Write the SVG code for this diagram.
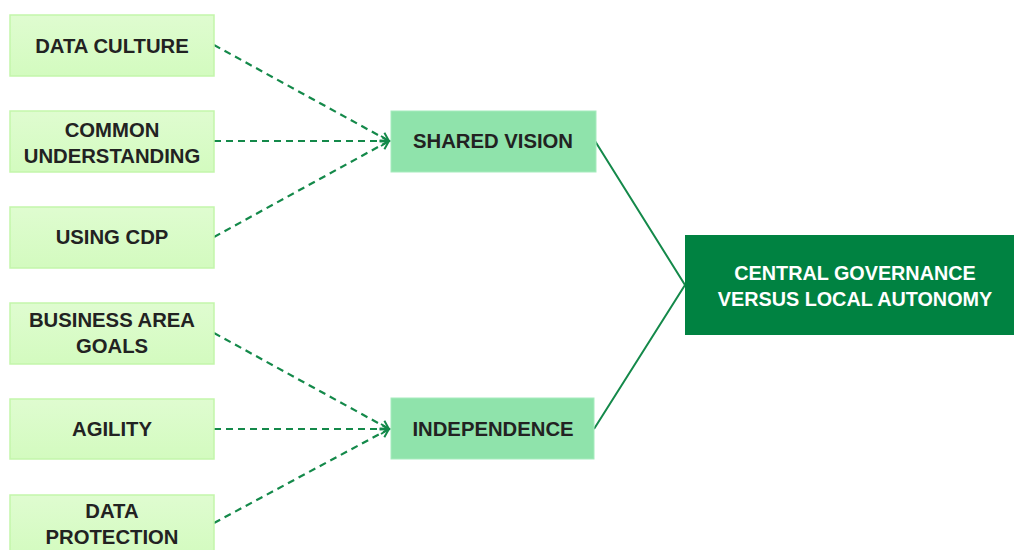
<svg xmlns="http://www.w3.org/2000/svg" width="1014" height="550" viewBox="0 0 1014 550">
  <style>
    .leaf rect { fill: url(#leafFill); stroke: #c3f6ab; stroke-width: 1.5; }
    .mid rect { fill: #8fe3ab; stroke: #a6ebbd; stroke-width: 1; }
    .root rect { fill: #008241; }
    text { font-family: "Liberation Sans", Arial, sans-serif; font-weight: bold; font-size: 20.3px; text-anchor: middle; fill: #222222; }
    .root text { fill: #ffffff; font-size: 19.8px; }
    .dash { fill: none; stroke: #14894a; stroke-width: 2.2; stroke-dasharray: 7 5; marker-end: url(#chev); }
    .solid { fill: none; stroke: #14894a; stroke-width: 2; }
  </style>
  <defs>
    <linearGradient id="leafFill" x1="0" y1="0" x2="0" y2="1">
      <stop offset="0" stop-color="#dffcd0"/>
      <stop offset="1" stop-color="#d3fbbf"/>
    </linearGradient>
    <marker id="chev" markerUnits="userSpaceOnUse" markerWidth="12" markerHeight="12" refX="9" refY="6" orient="auto">
      <path d="M1,1 L9,6 L1,11" fill="none" stroke="#14894a" stroke-width="2"/>
    </marker>
  </defs>

  <!-- connectors -->
  <g id="connectors">
    <path class="dash" d="M214,45 L389,141"/>
    <path class="dash" d="M214,141 L389,141"/>
    <path class="dash" d="M214,237 L389,141"/>
    <path class="dash" d="M214,333 L389,429"/>
    <path class="dash" d="M214,429 L389,429"/>
    <path class="dash" d="M214,523 L389,429"/>
    <path class="solid" d="M595,141 L685,285 L594,429"/>
  </g>

  <!-- left column -->
  <g id="data-culture" class="leaf">
    <rect x="10" y="15" width="204" height="61"/>
    <text x="112" y="53">DATA CULTURE</text>
  </g>
  <g id="common-understanding" class="leaf">
    <rect x="10" y="111" width="204" height="61"/>
    <text x="112" y="137">COMMON</text>
    <text x="112" y="163">UNDERSTANDING</text>
  </g>
  <g id="using-cdp" class="leaf">
    <rect x="10" y="207" width="204" height="61"/>
    <text x="112" y="244">USING CDP</text>
  </g>
  <g id="business-area-goals" class="leaf">
    <rect x="10" y="303" width="204" height="61"/>
    <text x="112" y="327">BUSINESS AREA</text>
    <text x="112" y="353">GOALS</text>
  </g>
  <g id="agility" class="leaf">
    <rect x="10" y="399" width="204" height="60"/>
    <text x="112" y="436">AGILITY</text>
  </g>
  <g id="data-protection" class="leaf">
    <rect x="10" y="495" width="204" height="61"/>
    <text x="112" y="518">DATA</text>
    <text x="112" y="544">PROTECTION</text>
  </g>

  <!-- middle column -->
  <g id="shared-vision" class="mid">
    <rect x="391" y="111" width="205" height="61"/>
    <text x="493" y="148">SHARED VISION</text>
  </g>
  <g id="independence" class="mid">
    <rect x="391" y="398" width="203" height="61"/>
    <text x="493" y="436">INDEPENDENCE</text>
  </g>

  <!-- outcome -->
  <g id="central-governance" class="root">
    <rect x="685" y="235" width="329" height="100"/>
    <text x="855" y="280">CENTRAL GOVERNANCE</text>
    <text x="855" y="306">VERSUS LOCAL AUTONOMY</text>
  </g>
</svg>
